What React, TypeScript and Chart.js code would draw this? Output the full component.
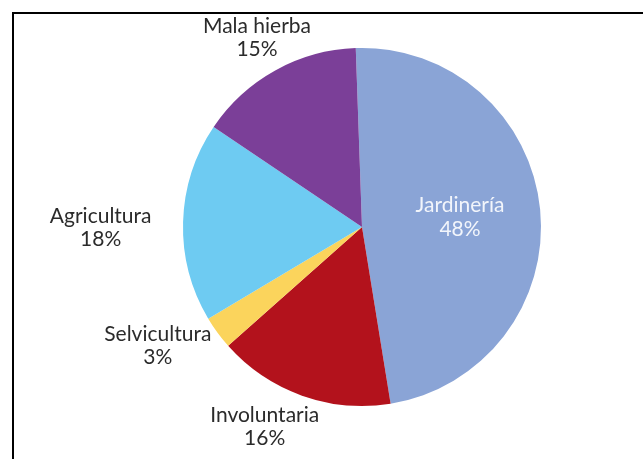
import React, { useEffect, useRef } from "react";
import { Chart, registerables } from "chart.js";

Chart.register(...registerables);

const categories = ["Jardinería", "Involuntaria", "Selvicultura", "Agricultura", "Mala hierba"];
const values = [48, 16, 3, 18, 15];
const colors = ["#8aa4d6", "#b3121c", "#fbd45c", "#6ecbf2", "#7b3f98"];
const labelColors = ["#f2f5fb", "#2b2b2b", "#2b2b2b", "#2b2b2b", "#2b2b2b"];

// label placement relative to slice: [angle shift in degrees, distance in radii]
const labelPlacement: [number, number][] = [
  [0, 0.55],
  [6.4, 1.24],
  [6, 1.32],
  [-1.8, 1.46],
  [0, 1.21],
];

const labelPlugin = {
  id: "sliceLabels",
  afterDatasetsDraw(chart: any) {
    const ctx = chart.ctx;
    const meta = chart.getDatasetMeta(0);
    ctx.save();
    ctx.font = '21px "Lato", sans-serif';
    ctx.textAlign = "center";
    ctx.textBaseline = "middle";
    const lineH = 23.5;
    meta.data.forEach((arc: any, i: number) => {
      const p = arc.getProps(["x", "y", "startAngle", "endAngle", "outerRadius"], true);
      const [shift, dist] = labelPlacement[i];
      const a = (p.startAngle + p.endAngle) / 2 + (shift * Math.PI) / 180;
      const cx = p.x + Math.cos(a) * p.outerRadius * dist;
      const cy = p.y + Math.sin(a) * p.outerRadius * dist;
      ctx.fillStyle = labelColors[i];
      ctx.fillText(categories[i], cx, cy - lineH / 2);
      ctx.fillText(values[i] + "%", cx, cy + lineH / 2);
    });
    ctx.restore();
  },
};

export default function App() {
  const ref = useRef<HTMLCanvasElement>(null);
  useEffect(() => {
    if (!ref.current) return;
    const chart = new Chart(ref.current, {
      type: "pie",
      data: {
        labels: categories,
        datasets: [
          {
            data: values,
            backgroundColor: colors,
            borderWidth: 0,
          },
        ],
      },
      options: {
        responsive: false,
        animation: false,
        rotation: -2,
        layout: { padding: { left: 183, right: 102, top: 48, bottom: 53 } },
        plugins: {
          legend: { display: false },
          tooltip: { enabled: false },
        },
      },
      plugins: [labelPlugin],
    });
    return () => chart.destroy();
  }, []);
  return (
    <div style={{ position: "fixed", left: 0, top: 0, width: 643, height: 459, background: "#fff" }}>
      <canvas ref={ref} width={643} height={459} style={{ position: "absolute", left: 0, top: 0 }} />
      <div
        style={{
          position: "absolute",
          left: 12,
          top: 12,
          right: 0,
          bottom: 0,
          borderTop: "2px solid #000",
          borderLeft: "2px solid #000",
          pointerEvents: "none",
        }}
      />
    </div>
  );
}
